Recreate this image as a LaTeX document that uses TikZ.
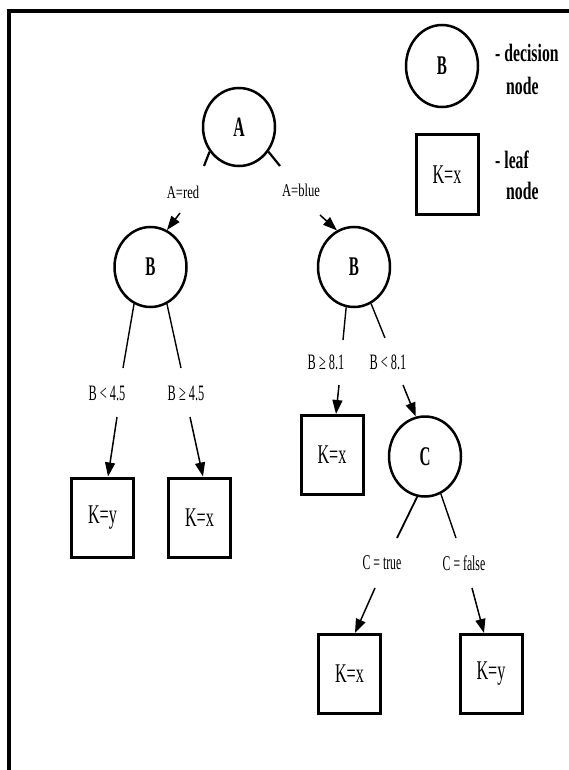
\documentclass[tikz,border=0pt]{standalone}
\usepackage{fontspec}
\usetikzlibrary{arrows.meta,shapes.geometric,calc}
\newfontfamily\lgf[FakeStretch=0.63]{Liberation Serif}
\newfontfamily\ndf[FakeStretch=0.56]{Liberation Serif}
\newfontfamily\kf[FakeStretch=0.6]{Liberation Serif}
\newfontfamily\elf[FakeStretch=0.56]{Liberation Serif}
\newfontfamily\alf[FakeStretch=0.7]{Liberation Serif}
\begin{document}
\begin{tikzpicture}[x=1pt,y=-1pt,
  dec/.style={ellipse, draw, line width=2.5pt, minimum width=72pt, minimum height=80pt, inner sep=0pt,
    font=\ndf\bfseries\fontsize{27}{27}\selectfont},
  leaf/.style={rectangle, draw, line width=3pt, minimum width=62pt, minimum height=79pt, inner sep=0pt,
    font=\kf\fontsize{27}{27}\selectfont},
  legtext/.style={anchor=west, inner sep=0pt, font=\lgf\bfseries\fontsize{25}{25}\selectfont},
  elab/.style={inner sep=0pt, font=\elf\fontsize{22}{22}\selectfont},
  alab/.style={inner sep=0pt, font=\alf\fontsize{18}{18}\selectfont},
  edge/.style={line width=1.4pt},
  stub/.style={line width=2.2pt},
  arr/.style={line width=1.5pt, -{Triangle[length=14pt,width=10pt]}}
]
\useasboundingbox (0,0) rectangle (569,770);
% frame
\draw[line width=3.5pt] (569,11) -- (9,11) -- (9,772);

% legend
\node[dec, minimum height=82pt] (LB) at (442,66) {B};
\node[leaf] (LK) at (447,174.5) {K=x};
\node[legtext] (t1) at (495,53) {- decision};
\node[legtext] (t2) at (506,86) {node};
\node[legtext] (t3) at (495,160) {- leaf};
\node[legtext] (t4) at (506,191) {node};

% tree nodes
\node[dec, minimum width=72pt, minimum height=78pt, font=\ndf\bfseries\fontsize{28}{28}\selectfont] (A) at (239,127) {A};
\node[dec] (B1) at (150.5,267) {B};
\node[dec] (B2) at (354,267) {B};
\node[dec] (C) at (425,456.5) {C};
\node[leaf] (L1) at (102.5,517.5) {K=y};
\node[leaf] (L2) at (199.5,517.5) {K=x};
\node[leaf] (L3) at (332,455) {K=x};
\node[leaf] (L4) at (349.5,674) {K=x};
\node[leaf] (L5) at (491,674) {K=y};

% edge labels
\node[alab] (lar) at (183,192) {A=red};
\node[alab] (lab) at (301,190) {A=blue};
\node[elab] (lb1) at (107,393) {B < 4.5};
\node[elab] (lb2) at (186,393) {B ≥ 4.5};
\node[elab] (lb3) at (326,362) {B ≥ 8.1};
\node[elab] (lb4) at (388,362) {B < 8.1};
\node[elab, font=\elf\fontsize{21}{21}\selectfont] (lc1) at (382,563) {C = true};
\node[elab, font=\elf\fontsize{21}{21}\selectfont] (lc2) at (464,563) {C = false};

% break coordinates
\coordinate (a1) at (204,166);
\coordinate (a2) at (280,166);
\coordinate (a3) at (180,213);
\coordinate (a4) at (320,215);
\coordinate (b1) at (123,368);
\coordinate (b2) at (181,368);
\coordinate (b3) at (117,417);
\coordinate (b4) at (190,417);
\coordinate (b5) at (343,340);
\coordinate (b6) at (385,338);
\coordinate (b7) at (339,385);
\coordinate (b8) at (403,385);
\coordinate (c1) at (397,538);
\coordinate (c2) at (456,538);
\coordinate (c3) at (375,588);
\coordinate (c4) at (472,588);

% connectors
\draw[stub] (A.220.8) -- (a1);
\draw[stub] (A.-40.8) -- (a2);
\draw[arr] (a3) -- (B1.66);
\draw[arr] (a4) -- (B2.115);

\draw[edge] (B1.-114) -- (b1);
\draw[edge] (B1.-66) -- (b2);
\draw[arr] (b3) -- ($(L1.north)+(5.5,0)$);
\draw[arr] (b4) -- ($(L2.north)+(3.5,0)$);

\draw[edge] (B2.-101) -- (b5);
\draw[edge] (B2.-65) -- (b6);
\draw[arr] (b7) -- ($(L3.north)+(4,0)$);
\draw[arr] (b8) -- (C.103);

\draw[edge, line width=1.8pt] (C.-101) -- (c1);
\draw[edge] (C.-67) -- (c2);
\draw[arr] (c3) -- ($(L4.north)+(5.5,0)$);
\draw[arr] (c4) -- ($(L5.north)+(-7,0)$);
\end{tikzpicture}
\end{document}
